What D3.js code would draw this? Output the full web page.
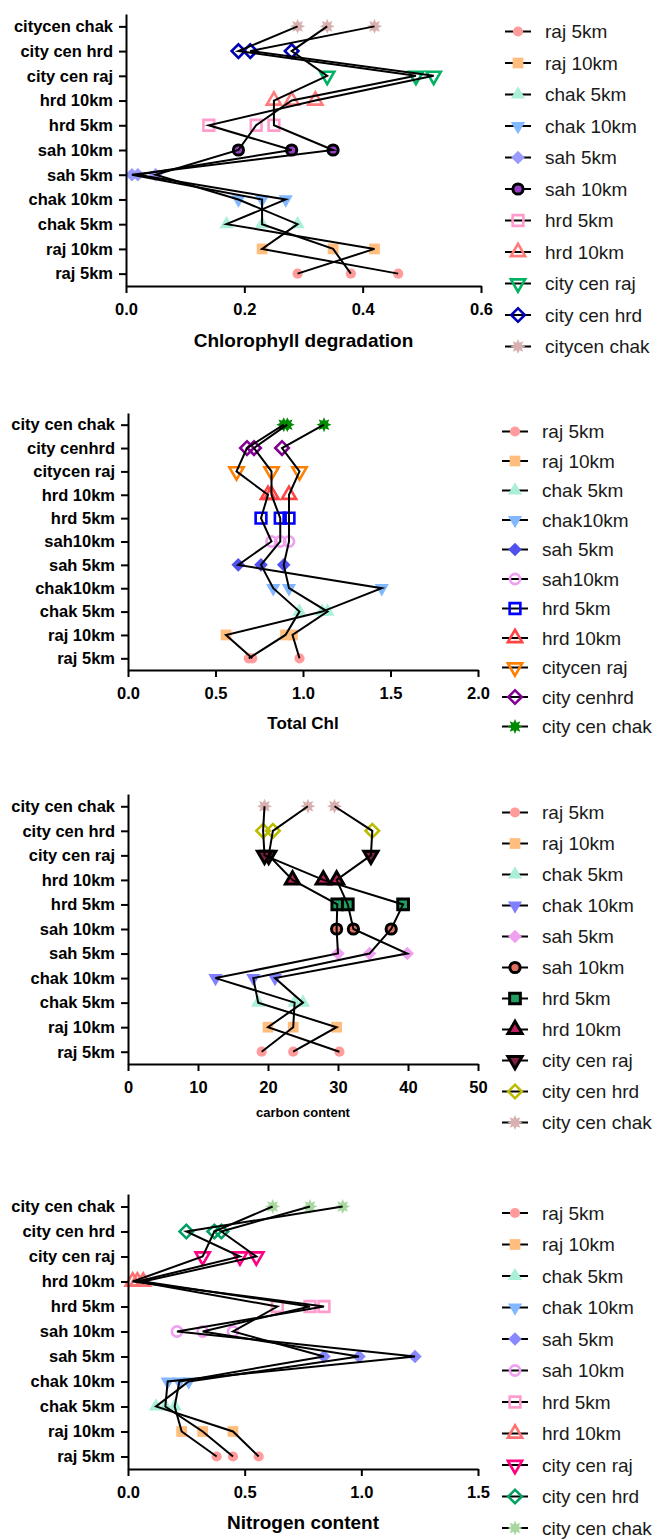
<!DOCTYPE html>
<html>
<head>
<meta charset="utf-8">
<script src="https://cdn.jsdelivr.net/npm/d3@7/dist/d3.min.js"></script>
<style>
    body { margin: 0; background: #ffffff; }
    svg { display: block; }
</style>
</head>
<body>
<div id="chart"></div>
<script>
'use strict';

// y categories, bottom row first (as they appear in each panel)
var rowsChl = ['raj 5km', 'raj 10km', 'chak 5km', 'chak 10km', 'sah 5km', 'sah 10km',
    'hrd 5km', 'hrd 10km', 'city cen raj', 'city cen hrd', 'citycen chak'];
var rowsTot = ['raj 5km', 'raj 10km', 'chak 5km', 'chak10km', 'sah 5km', 'sah10km',
    'hrd 5km', 'hrd 10km', 'citycen raj', 'city cenhrd', 'city cen chak'];
var rowsCN = ['raj 5km', 'raj 10km', 'chak 5km', 'chak 10km', 'sah 5km', 'sah 10km',
    'hrd 5km', 'hrd 10km', 'city cen raj', 'city cen hrd', 'city cen chak'];

// replicate values, one array per replicate, same order as the rows
var chlDegRep1 = [0.29, 0.42, 0.17, 0.27, 0.02, 0.28, 0.14, 0.32, 0.52, 0.21, 0.42];
var chlDegRep2 = [0.46, 0.23, 0.29, 0.19, 0.05, 0.19, 0.22, 0.28, 0.49, 0.19, 0.29];
var chlDegRep3 = [0.38, 0.35, 0.23, 0.23, 0.01, 0.35, 0.25, 0.25, 0.34, 0.28, 0.34];

var totChlRep1 = [0.71, 0.56, 1.11, 1.45, 0.63, 0.82, 0.76, 0.80, 0.62, 0.68, 0.89];
var totChlRep2 = [0.69, 0.90, 0.98, 0.83, 0.76, 0.87, 0.87, 0.82, 0.82, 0.72, 0.91];
var totChlRep3 = [0.98, 0.94, 1.14, 0.92, 0.89, 0.92, 0.92, 0.92, 0.98, 0.88, 1.12];

var carbonRep1 = [19.1, 23.6, 23.8, 12.5, 30.0, 29.8, 29.9, 23.5, 20.1, 20.7, 25.7];
var carbonRep2 = [23.6, 29.8, 18.6, 17.9, 34.5, 37.6, 39.3, 27.9, 19.5, 19.3, 19.5];
var carbonRep3 = [30.2, 20.0, 25.0, 21.0, 39.9, 32.2, 31.4, 29.8, 34.7, 34.9, 29.5];

var nitroRep1 = [0.38, 0.23, 0.20, 0.22, 0.84, 0.45, 0.64, 0.04, 0.48, 0.25, 0.92];
var nitroRep2 = [0.45, 0.32, 0.16, 0.17, 1.23, 0.21, 0.84, 0.02, 0.32, 0.37, 0.62];
var nitroRep3 = [0.56, 0.45, 0.12, 0.26, 0.99, 0.32, 0.78, 0.065, 0.55, 0.40, 0.78];

var ticksChl = [0, 0.2, 0.4, 0.6];
var ticksTot = [0, 0.5, 1.0, 1.5, 2.0];
var ticksCarbon = [0, 10, 20, 30, 40, 50];
var ticksNitro = [0, 0.5, 1.0, 1.5];

// marker look per row
var shapes = ['circle', 'square', 'up', 'down', 'diamond', 'circle', 'square', 'up', 'down', 'diamond', 'star'];

var coloursChl = ['#ff9b9b', '#ffbd7e', '#aaf0d6', '#82b8ff', '#9a9aff', '#9a3fc8',
    '#ff9ccc', '#ff7c7c', '#00b262', '#0000b4', '#d8b0b0'];
var stylesChl = ['fill', 'fill', 'fill', 'fill', 'fill', 'ring', 'open', 'open', 'open', 'open', 'fill'];

var coloursTot = ['#ff9b9b', '#ffbd7e', '#aaf0d6', '#82b8ff', '#5050ee', '#f0a0f0',
    '#0000ff', '#ff4444', '#ff8000', '#800090', '#008a00'];
var stylesTot = ['fill', 'fill', 'fill', 'fill', 'fill', 'open', 'open', 'open', 'open', 'open', 'fill'];

var coloursCarbon = ['#ff9b9b', '#ffbd7e', '#aaf0d6', '#8080ff', '#f0a0f0', '#e07060',
    '#20a060', '#c02060', '#802040', '#bbbb00', '#d8b0b0'];
var stylesCarbon = ['fill', 'fill', 'fill', 'fill', 'fill', 'ring', 'ring', 'ring', 'ring', 'open', 'fill'];

var coloursNitro = ['#ff9b9b', '#ffbd7e', '#aaf0d6', '#82b8ff', '#8888ff', '#f0a0f0',
    '#ff9ccc', '#ff7070', '#ff0080', '#00a060', '#a8d8a0'];
var stylesNitro = ['fill', 'fill', 'fill', 'fill', 'fill', 'open', 'open', 'open', 'open', 'open', 'fill'];

var FONT = '"Liberation Sans", Arial, sans-serif';

var svg = d3.select('#chart').append('svg')
    .attr('width', 660)
    .attr('height', 1539);

var symbols = {
    circle: d3.symbol().type(d3.symbolCircle).size(82)(),
    square: d3.symbol().type(d3.symbolSquare).size(115)(),
    up: d3.symbol().type(d3.symbolTriangle).size(88)(),
    down: d3.symbol().type(d3.symbolTriangle).size(88)(),
    diamond: d3.symbol().type(d3.symbolSquare).size(92)(),
    star: starPath(7.5)
};
var rotation = { down: 180, diamond: 45 };

function starPath(r) {
    var pts = [];
    for (var k = 0; k < 16; k++) {
        var a = Math.PI * k / 8,
            rr = k % 2 ? r * 0.55 : r;
        pts.push([(Math.sin(a) * rr).toFixed(2), (-Math.cos(a) * rr).toFixed(2)]);
    }
    return 'M' + pts.join('L') + 'Z';
}

function drawMarker(target, shape, colour, style, cx, cy) {
    var m = target.append('path')
        .attr('d', symbols[shape])
        .attr('transform', 'translate(' + cx + ',' + cy + ') rotate(' + (rotation[shape] || 0) + ')');

    if (style === 'open') {
        m.attr('fill', 'none')
            .attr('stroke', colour)
            .attr('stroke-width', 2.6);
    } else if (style === 'ring') {
        m.attr('fill', colour)
            .attr('stroke', '#000000')
            .attr('stroke-width', 3);
    } else {
        m.attr('fill', colour)
            .attr('stroke', 'none');
    }
    return m;
}

function drawPanel(p) {
    var g = svg.append('g');

    var x = d3.scaleLinear()
        .domain([p.ticks[0], p.ticks[p.ticks.length - 1]])
        .range([p.left, p.right]);

    var y = d3.scalePoint()
        .domain(p.rows)
        .range([p.bottom, p.top])
        .padding(0.5);

    // markers first, the black replicate lines run over them
    var markers = g.append('g');
    p.reps.forEach(function(rep) {
        rep.forEach(function(v, i) {
            drawMarker(markers, shapes[i], p.colours[i], p.styles[i], x(v), y(p.rows[i]));
        });
    });

    var line = d3.line()
        .x(function(d) { return x(d[0]); })
        .y(function(d) { return y(d[1]); });

    p.reps.forEach(function(rep) {
        g.append('path')
            .datum(rep.map(function(v, i) { return [v, p.rows[i]]; }))
            .attr('d', line)
            .attr('fill', 'none')
            .attr('stroke', '#000000')
            .attr('stroke-width', 2)
            .attr('stroke-linejoin', 'miter');
    });

    var xAxis = g.append('g')
        .attr('transform', 'translate(0,' + p.bottom + ')')
        .call(d3.axisBottom(x)
            .tickValues(p.ticks)
            .tickFormat(d3.format(p.format))
            .tickSize(7)
            .tickSizeOuter(0)
            .tickPadding(10));

    var yAxis = g.append('g')
        .attr('transform', 'translate(' + p.left + ',0)')
        .call(d3.axisLeft(y)
            .tickSize(7)
            .tickSizeOuter(0)
            .tickPadding(6));

    [xAxis, yAxis].forEach(function(a) {
        a.selectAll('path, line')
            .attr('stroke', '#000000')
            .attr('stroke-width', 2);
        a.selectAll('text')
            .attr('fill', '#000000')
            .attr('font-family', FONT)
            .attr('font-weight', 'bold')
            .attr('font-size', '16.5px');
    });

    g.append('text')
        .attr('x', (p.left + p.right) / 2)
        .attr('y', p.titleY)
        .attr('text-anchor', 'middle')
        .attr('font-family', FONT)
        .attr('font-weight', 'bold')
        .attr('font-size', p.titleSize + 'px')
        .text(p.title);

    // legend, one entry per row, top to bottom
    var leg = g.append('g');
    p.rows.forEach(function(name, i) {
        var ly = p.legTop + i * p.legStep;
        leg.append('line')
            .attr('x1', p.legX - 13)
            .attr('x2', p.legX + 13)
            .attr('y1', ly)
            .attr('y2', ly)
            .attr('stroke', '#000000')
            .attr('stroke-width', 2);
        drawMarker(leg, shapes[i], p.colours[i], p.styles[i], p.legX, ly);
        leg.append('text')
            .attr('x', p.legX + 27)
            .attr('y', ly)
            .attr('dy', '0.35em')
            .attr('fill', '#1a1a1a')
            .attr('font-family', FONT)
            .attr('font-size', '19px')
            .text(name);
    });
}

drawPanel({
    rows: rowsChl, reps: [chlDegRep1, chlDegRep2, chlDegRep3],
    colours: coloursChl, styles: stylesChl,
    ticks: ticksChl, format: '.1f',
    left: 126, right: 481, top: 14, bottom: 286,
    title: 'Chlorophyll degradation', titleY: 347, titleSize: 19,
    legX: 518, legTop: 31.5, legStep: 31.5
});

drawPanel({
    rows: rowsTot, reps: [totChlRep1, totChlRep2, totChlRep3],
    colours: coloursTot, styles: stylesTot,
    ticks: ticksTot, format: '.1f',
    left: 128, right: 478, top: 413, bottom: 670,
    title: 'Total Chl', titleY: 729, titleSize: 17,
    legX: 515, legTop: 431.5, legStep: 29.5
});

drawPanel({
    rows: rowsCN, reps: [carbonRep1, carbonRep2, carbonRep3],
    colours: coloursCarbon, styles: stylesCarbon,
    ticks: ticksCarbon, format: 'd',
    left: 128, right: 478, top: 794, bottom: 1064,
    title: 'carbon content', titleY: 1117, titleSize: 13,
    legX: 515, legTop: 812.5, legStep: 31
});

drawPanel({
    rows: rowsCN, reps: [nitroRep1, nitroRep2, nitroRep3],
    colours: coloursNitro, styles: stylesNitro,
    ticks: ticksNitro, format: '.1f',
    left: 128, right: 478, top: 1194, bottom: 1469,
    title: 'Nitrogen content', titleY: 1529, titleSize: 19,
    legX: 515, legTop: 1213, legStep: 31.5
});
</script>
</body>
</html>
